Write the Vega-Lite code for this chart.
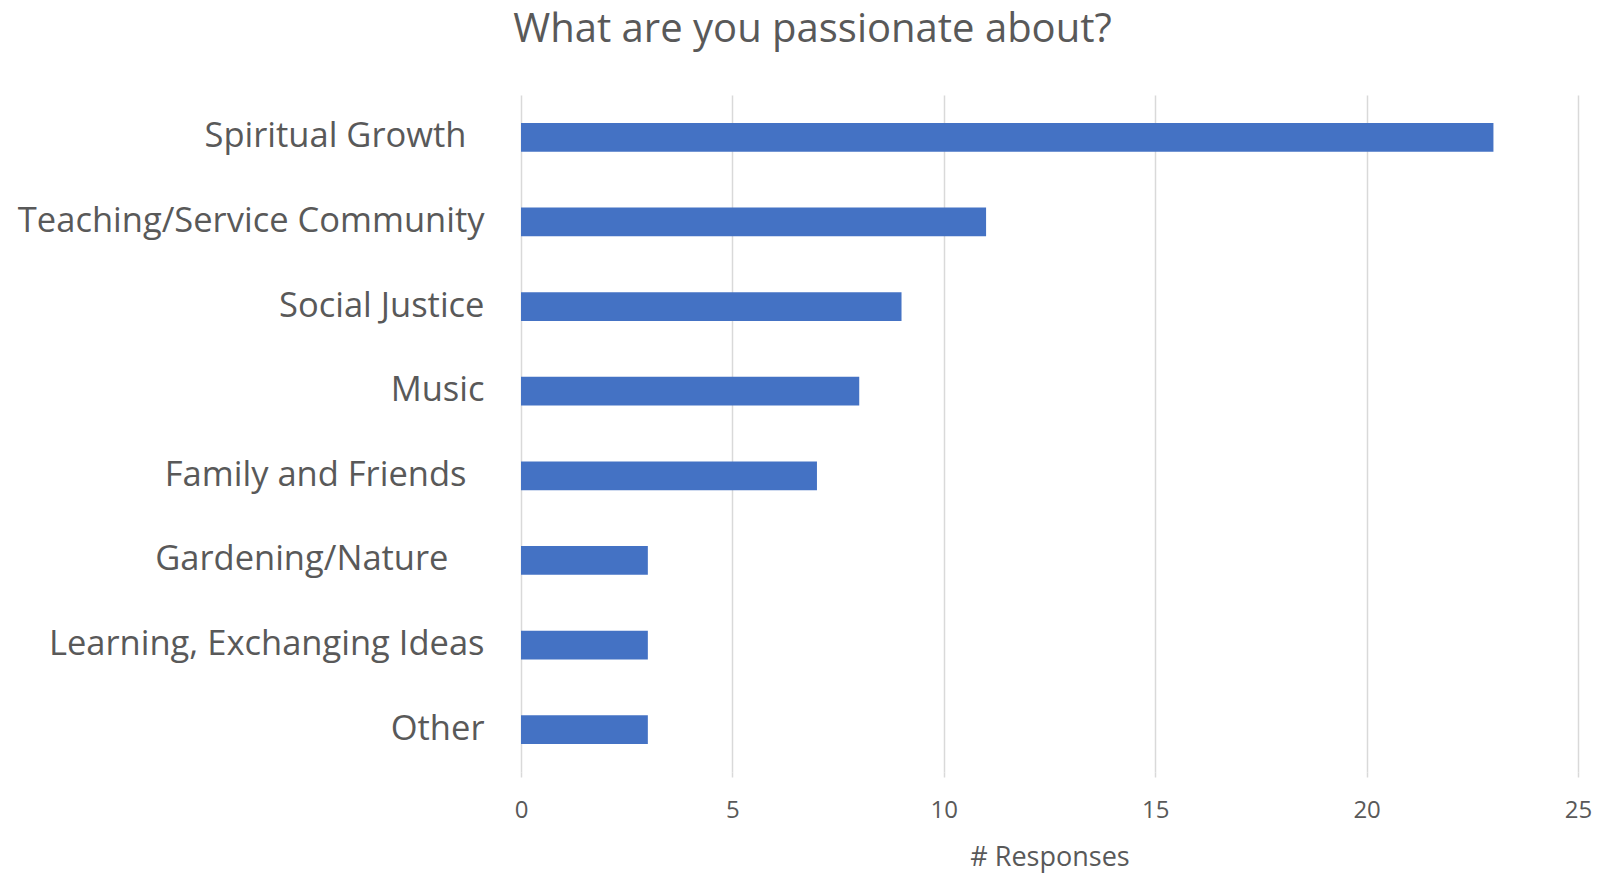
{
  "$schema": "https://vega.github.io/schema/vega-lite/v6.json",
  "autosize": "none",
  "width": 1057,
  "height": 677,
  "padding": {"left": 521, "top": 95, "right": 37, "bottom": 103},
  "background": "white",
  "title": {
    "text": "What are you passionate about?",
    "anchor": "middle",
    "dx": -237,
    "offset": 45,
    "font": "Open Sans",
    "fontSize": 40,
    "fontWeight": "normal",
    "color": "#595959"
  },
  "data": {
    "values": [
      {"category": "Spiritual Growth", "responses": 23},
      {"category": "Teaching/Service Community", "responses": 11},
      {"category": "Social Justice", "responses": 9},
      {"category": "Music", "responses": 8},
      {"category": "Family and Friends", "responses": 7},
      {"category": "Gardening/Nature", "responses": 3},
      {"category": "Learning, Exchanging Ideas", "responses": 3},
      {"category": "Other", "responses": 3}
    ]
  },
  "mark": {"type": "bar", "color": "#4472C4"},
  "encoding": {
    "y": {
      "field": "category",
      "type": "nominal",
      "sort": null,
      "scale": {"paddingInner": 0.66, "paddingOuter": 0.33},
      "axis": {
        "title": null,
        "domain": false,
        "ticks": false,
        "grid": false,
        "labelFont": "Open Sans",
        "labelFontSize": 34.5,
        "labelColor": "#595959",
        "labelPadding": {
          "condition": [
            {"test": "datum.value === 'Gardening/Nature'", "value": 73},
            {"test": "datum.value === 'Spiritual Growth' || datum.value === 'Family and Friends'", "value": 55}
          ],
          "value": 37
        },
        "labelLimit": 700
      }
    },
    "x": {
      "field": "responses",
      "type": "quantitative",
      "scale": {"domain": [0, 25]},
      "axis": {
        "values": [0, 5, 10, 15, 20, 25],
        "title": "# Responses",
        "titleFont": "Open Sans",
        "titleFontSize": 27,
        "titleFontWeight": "normal",
        "titleColor": "#595959",
        "titlePadding": 22,
        "domain": false,
        "grid": true,
        "gridColor": "#d9d9d9",
        "gridWidth": 1.5,
        "ticks": true,
        "tickColor": "#d9d9d9",
        "tickSize": 5,
        "tickWidth": 1.5,
        "labelFont": "Open Sans",
        "labelFontSize": 24,
        "labelColor": "#595959",
        "labelPadding": 21,
        "labelFlush": false
      }
    }
  },
  "config": {"view": {"stroke": null}}
}
